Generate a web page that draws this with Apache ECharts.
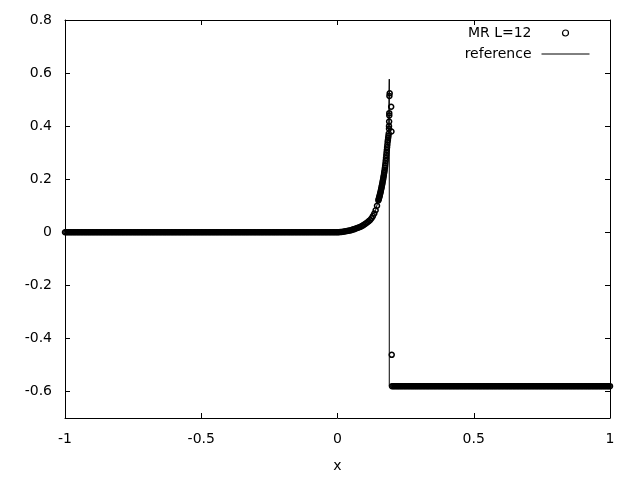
<!DOCTYPE html>
<html>
<head>
<meta charset="utf-8">
<script src="https://cdn.jsdelivr.net/npm/echarts@6/dist/echarts.min.js"></script>
<style>
  html, body { margin: 0; padding: 0; background: #fff; }
  #chart { width: 640px; height: 480px; }
</style>
</head>
<body>
<div id="chart"></div>
<script>
// MR L=12, flat part in front of the layer (y = 0)
const mrLeftX = [
  -1, -0.995, -0.99, -0.985, -0.98, -0.975, -0.97, -0.965, -0.96, -0.955,
  -0.95, -0.945, -0.94, -0.935, -0.93, -0.925, -0.92, -0.915, -0.91, -0.905,
  -0.9, -0.895, -0.89, -0.885, -0.88, -0.875, -0.87, -0.865, -0.86, -0.855,
  -0.85, -0.845, -0.84, -0.835, -0.83, -0.825, -0.82, -0.815, -0.81, -0.805,
  -0.8, -0.795, -0.79, -0.785, -0.78, -0.775, -0.77, -0.765, -0.76, -0.755,
  -0.75, -0.745, -0.74, -0.735, -0.73, -0.725, -0.72, -0.715, -0.71, -0.705,
  -0.7, -0.695, -0.69, -0.685, -0.68, -0.675, -0.67, -0.665, -0.66, -0.655,
  -0.65, -0.645, -0.64, -0.635, -0.63, -0.625, -0.62, -0.615, -0.61, -0.605,
  -0.6, -0.595, -0.59, -0.585, -0.58, -0.575, -0.57, -0.565, -0.56, -0.555,
  -0.55, -0.545, -0.54, -0.535, -0.53, -0.525, -0.52, -0.515, -0.51, -0.505,
  -0.5, -0.495, -0.49, -0.485, -0.48, -0.475, -0.47, -0.465, -0.46, -0.455,
  -0.45, -0.445, -0.44, -0.435, -0.43, -0.425, -0.42, -0.415, -0.41, -0.405,
  -0.4, -0.395, -0.39, -0.385, -0.38, -0.375, -0.37, -0.365, -0.36, -0.355,
  -0.35, -0.345, -0.34, -0.335, -0.33, -0.325, -0.32, -0.315, -0.31, -0.305,
  -0.3, -0.295, -0.29, -0.285, -0.28, -0.275, -0.27, -0.265, -0.26, -0.255,
  -0.25, -0.245, -0.24, -0.235, -0.23, -0.225, -0.22, -0.215, -0.21, -0.205,
  -0.2, -0.195, -0.19, -0.185, -0.18, -0.175, -0.17, -0.165, -0.16, -0.155,
  -0.15, -0.145, -0.14, -0.135, -0.13, -0.125, -0.12, -0.115, -0.11, -0.105,
  -0.1, -0.095, -0.09, -0.085, -0.08, -0.075, -0.07, -0.065, -0.06, -0.055,
  -0.05, -0.045, -0.04, -0.035, -0.03, -0.025, -0.02, -0.015, -0.01, -0.005,
  0
]
const mrLeftLevel = 0

// rising part
const mrRiseX = [
  0.005, 0.01, 0.015, 0.02, 0.025, 0.03, 0.035, 0.04, 0.045, 0.05,
  0.055, 0.06, 0.065, 0.07, 0.075, 0.08, 0.085, 0.09, 0.095, 0.1,
  0.105, 0.11, 0.115, 0.12, 0.125, 0.13, 0.135, 0.14, 0.145,
  0.15, 0.151, 0.152, 0.153, 0.154, 0.155, 0.156, 0.157, 0.158, 0.159,
  0.16, 0.161, 0.162, 0.163, 0.164, 0.165, 0.166, 0.167, 0.168, 0.169,
  0.17, 0.171, 0.172, 0.173, 0.174, 0.175, 0.176, 0.177, 0.178, 0.179,
  0.18, 0.181, 0.182, 0.183, 0.184, 0.185, 0.186, 0.187, 0.188
]
const mrRiseY = [
  0, 0.001, 0.001, 0.002, 0.003, 0.004, 0.005, 0.006, 0.007, 0.008,
  0.01, 0.011, 0.013, 0.015, 0.017, 0.019, 0.021, 0.024, 0.027, 0.03,
  0.034, 0.038, 0.042, 0.046, 0.053, 0.061, 0.071, 0.083, 0.1,
  0.12, 0.124, 0.127, 0.131, 0.135, 0.139, 0.143, 0.147, 0.152, 0.156,
  0.161, 0.166, 0.171, 0.176, 0.181, 0.186, 0.192, 0.197, 0.203, 0.209,
  0.215, 0.222, 0.228, 0.235, 0.243, 0.251, 0.26, 0.27, 0.28, 0.29,
  0.3, 0.31, 0.32, 0.33, 0.34, 0.348, 0.356, 0.364, 0.372
]

// loose points at the top of the layer and the one inside the jump
const mrTopX = [0.189, 0.189, 0.1895, 0.19, 0.19, 0.1905, 0.1915, 0.197, 0.198, 0.199]
const mrTopY = [0.39, 0.4, 0.417, 0.44, 0.449, 0.514, 0.524, 0.473, 0.38, -0.462]

// flat part behind the jump
const mrRightX = [
  0.2, 0.205, 0.21, 0.215, 0.22, 0.225, 0.23, 0.235, 0.24, 0.245,
  0.25, 0.255, 0.26, 0.265, 0.27, 0.275, 0.28, 0.285, 0.29, 0.295,
  0.3, 0.305, 0.31, 0.315, 0.32, 0.325, 0.33, 0.335, 0.34, 0.345,
  0.35, 0.355, 0.36, 0.365, 0.37, 0.375, 0.38, 0.385, 0.39, 0.395,
  0.4, 0.405, 0.41, 0.415, 0.42, 0.425, 0.43, 0.435, 0.44, 0.445,
  0.45, 0.455, 0.46, 0.465, 0.47, 0.475, 0.48, 0.485, 0.49, 0.495,
  0.5, 0.505, 0.51, 0.515, 0.52, 0.525, 0.53, 0.535, 0.54, 0.545,
  0.55, 0.555, 0.56, 0.565, 0.57, 0.575, 0.58, 0.585, 0.59, 0.595,
  0.6, 0.605, 0.61, 0.615, 0.62, 0.625, 0.63, 0.635, 0.64, 0.645,
  0.65, 0.655, 0.66, 0.665, 0.67, 0.675, 0.68, 0.685, 0.69, 0.695,
  0.7, 0.705, 0.71, 0.715, 0.72, 0.725, 0.73, 0.735, 0.74, 0.745,
  0.75, 0.755, 0.76, 0.765, 0.77, 0.775, 0.78, 0.785, 0.79, 0.795,
  0.8, 0.805, 0.81, 0.815, 0.82, 0.825, 0.83, 0.835, 0.84, 0.845,
  0.85, 0.855, 0.86, 0.865, 0.87, 0.875, 0.88, 0.885, 0.89, 0.895,
  0.9, 0.905, 0.91, 0.915, 0.92, 0.925, 0.93, 0.935, 0.94, 0.945,
  0.95, 0.955, 0.96, 0.965, 0.97, 0.975, 0.98, 0.985, 0.99, 0.995,
  1
]
const mrRightLevel = -0.58

// reference solution
const refX = [-1, 0, 0.06, 0.1, 0.14, 0.16, 0.176, 0.184, 0.188, 0.19, 0.19, 1]
const refY = [0, 0, 0.011, 0.03, 0.083, 0.161, 0.26, 0.34, 0.4, 0.577, -0.58, -0.58]

// y tick marks (the axis itself runs from -0.7 to 0.8)
const yTicks = [-0.6, -0.4, -0.2, 0, 0.2, 0.4, 0.6, 0.8]

const FONT = 'DejaVu Sans'

const mrData = [
  ...mrLeftX.map(x => [x, mrLeftLevel]),
  ...mrRiseX.map((x, i) => [x, mrRiseY[i]]),
  ...mrTopX.map((x, i) => [x, mrTopY[i]]),
  ...mrRightX.map(x => [x, mrRightLevel]),
]
const refData = refX.map((x, i) => [x, refY[i]])

const axisCommon = {
  type: 'value',
  axisLine: { show: true, onZero: false, lineStyle: { color: '#000', width: 1 } },
  axisTick: { show: true, inside: true, length: 5, lineStyle: { color: '#000', width: 1 } },
  splitLine: { show: false },
}

const chart = echarts.init(document.getElementById('chart'), null, { renderer: 'canvas' })
chart.setOption({
  animation: false,
  backgroundColor: '#fff',
  textStyle: { fontFamily: FONT },
  grid: { left: 65, right: 30, top: 20, bottom: 62, outerBoundsMode: 'none' },
  legend: {
    orient: 'vertical',
    right: 50,
    top: 26,
    align: 'right',
    padding: 0,
    itemGap: 7,
    itemWidth: 48,
    itemHeight: 6,
    selectedMode: false,
    textStyle: { fontFamily: FONT, fontSize: 14, color: '#000', padding: [0, 5, 0, 0] },
    data: [
      {
        name: 'MR L=12',
        icon: 'circle',
        itemStyle: { color: 'rgba(0,0,0,0)', borderColor: '#000', borderWidth: 1.2 },
      },
      {
        name: 'reference',
        icon: 'line',
        itemStyle: { color: '#000', borderColor: '#000', borderWidth: 1 },
        lineStyle: { color: '#000', width: 1 },
      },
    ],
  },
  xAxis: [
    {
      ...axisCommon,
      position: 'bottom',
      min: -1,
      max: 1,
      interval: 0.5,
      name: 'x',
      nameLocation: 'middle',
      nameGap: 41,
      nameTextStyle: { fontFamily: FONT, fontSize: 14, color: '#000' },
      axisLabel: { margin: 14, color: '#000', fontFamily: FONT, fontSize: 14 },
    },
    {
      ...axisCommon,
      position: 'top',
      min: -1,
      max: 1,
      interval: 0.5,
      axisLabel: { show: false },
    },
  ],
  yAxis: [
    {
      ...axisCommon,
      position: 'left',
      min: -0.7,
      max: 0.8,
      axisTick: { ...axisCommon.axisTick, customValues: yTicks },
      axisLabel: { margin: 13, color: '#000', fontFamily: FONT, fontSize: 14, customValues: yTicks },
    },
    {
      ...axisCommon,
      position: 'right',
      min: -0.7,
      max: 0.8,
      axisTick: { ...axisCommon.axisTick, customValues: yTicks },
      axisLabel: { show: false },
    },
  ],
  series: [
    {
      name: 'MR L=12',
      type: 'scatter',
      data: mrData,
      symbol: 'circle',
      symbolSize: 5,
      itemStyle: { color: 'rgba(0,0,0,0)', borderColor: '#000', borderWidth: 1.5, opacity: 1 },
      emphasis: { disabled: true },
      silent: true,
    },
    {
      name: 'reference',
      type: 'line',
      data: refData,
      symbol: 'none',
      showSymbol: false,
      lineStyle: { color: '#000', width: 1 },
      itemStyle: { color: '#000' },
      emphasis: { disabled: true },
      silent: true,
      z: 3,
    },
  ],
})
</script>
</body>
</html>
